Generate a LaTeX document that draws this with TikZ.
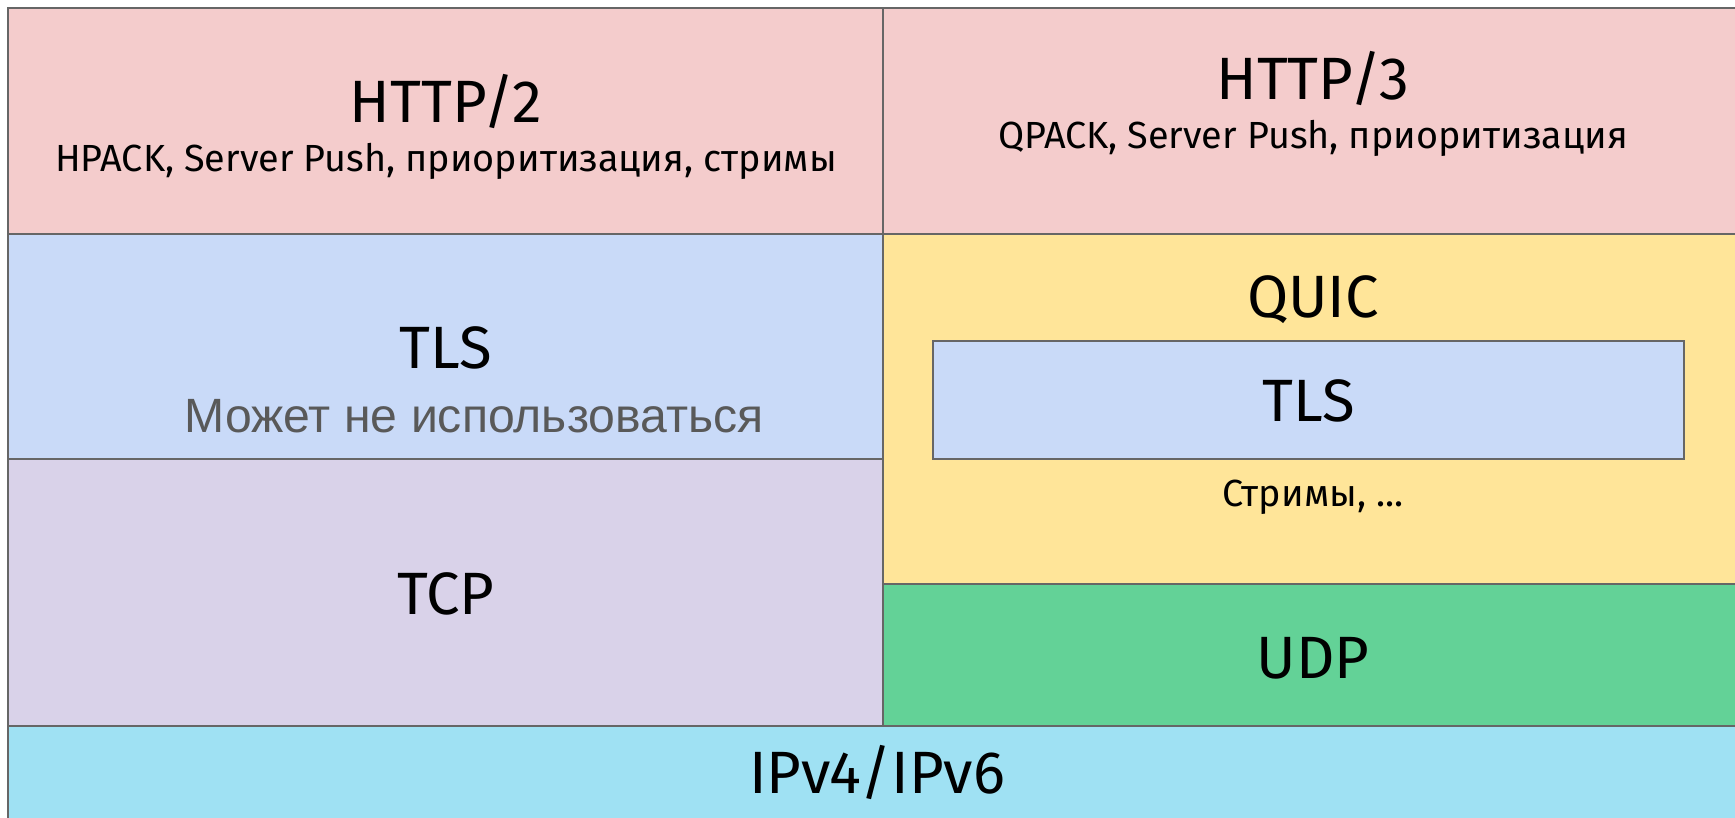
\documentclass[tikz,border=0pt]{standalone}
\usepackage{fontspec}
\setmainfont{Fira Sans}
\newfontfamily\notefont{Liberation Sans}
\usepackage{xcolor}

\definecolor{httpPink}{HTML}{F4CCCC}
\definecolor{tlsBlue}{HTML}{C9DAF8}
\definecolor{tcpLilac}{HTML}{D9D2E9}
\definecolor{quicYellow}{HTML}{FFE599}
\definecolor{udpGreen}{HTML}{63D297}
\definecolor{ipCyan}{HTML}{9FE1F3}
\definecolor{edgeGray}{HTML}{666666}
\definecolor{noteGray}{HTML}{595959}

\begin{document}
\begin{tikzpicture}[x=0.02cm,y=-0.02cm,
  layer/.style={draw=edgeGray,line width=0.85pt},
  title/.style={anchor=base,inner sep=0pt,font=\fontsize{34}{38}\selectfont},
  detail/.style={anchor=base,inner sep=0pt,font=\fontsize{21.5}{25}\selectfont}]
\useasboundingbox (0,0) rectangle (1735,818);
\clip (0,0) rectangle (1735,818);

% les couches, de haut en bas
\draw[layer,fill=httpPink] (8,8) rectangle (883,234);
\draw[layer,fill=httpPink] (883,8) rectangle (1745,234);
\draw[layer,fill=tlsBlue] (8,234) rectangle (883,459);
\draw[layer,fill=tcpLilac] (8,459) rectangle (883,726);
\draw[layer,fill=quicYellow] (883,234) rectangle (1745,584);
\draw[layer,fill=tlsBlue] (933,341) rectangle (1684,459);
\draw[layer,fill=udpGreen] (883,584) rectangle (1745,726);
\draw[layer,fill=ipCyan] (8,726) rectangle (1745,830);

% textes
\node [title] (http2) at (446,122) {HTTP/2};
\node [detail] (http2x) at (446,171) {HPACK, Server Push, приоритизация, стримы};
\node [title] (http3) at (1313,99) {HTTP/3};
\node [detail] (http3x) at (1313,148) {QPACK, Server Push, приоритизация};
\node [title] (tls) at (446,368) {TLS};
\node [anchor=base,inner sep=0pt,text=noteGray,font=\notefont\fontsize{27.4}{32}\selectfont]
  (tlsnote) at (474,432) {Может не использоваться};
\node [title] (tcp) at (446,614) {TCP};
\node [title] (quic) at (1313,317) {QUIC};
\node [title] (quictls) at (1309,421) {TLS};
\node [detail] (streams) at (1313,506) {Стримы, ...};
\node [title] (udp) at (1313,678) {UDP};
\node [title] (ip) at (877,793) {IPv4/IPv6};
\end{tikzpicture}
\end{document}
